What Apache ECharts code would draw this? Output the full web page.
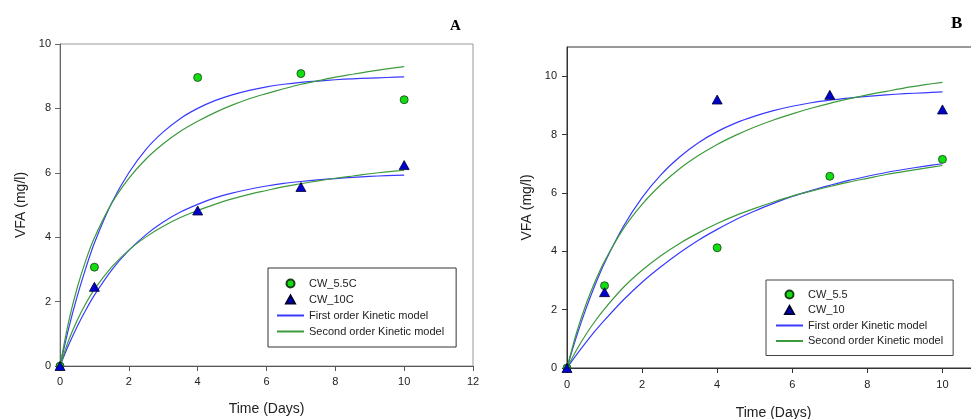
<!DOCTYPE html>
<html>
<head>
<meta charset="utf-8">
<script src="https://cdn.jsdelivr.net/npm/echarts@6/dist/echarts.min.js"></script>
<style>
html,body{margin:0;padding:0;background:#fff;}
#a{position:absolute;left:0;top:0;width:490px;height:419px;}
#b{position:absolute;left:490px;top:0;width:481px;height:419px;}
</style>
</head>
<body>
<div id="a"></div>
<div id="b"></div>
<script>
// Observation days and model time grid
const tObs = [0, 1, 4, 7, 10];
const tFit = [0, 0.25, 0.5, 0.75, 1, 1.5, 2, 2.5, 3, 3.5, 4, 4.5, 5, 5.5, 6, 6.5, 7, 7.5, 8, 8.5, 9, 9.5, 10];
const xTicksB = [0, 2, 4, 6, 8, 10];
const yTicksB = [0, 2, 4, 6, 8, 10];

// Panel A
const aCW55 = [0, 3.07, 8.96, 9.08, 8.27];
const aCW10 = [0, 2.46, 4.83, 5.56, 6.24];
const aFirstHigh = [0, 1.16, 2.16, 3.04, 3.82, 5.06, 6.00, 6.73, 7.27, 7.69, 8.00, 8.24, 8.42, 8.56, 8.67, 8.75, 8.81, 8.85, 8.89, 8.92, 8.94, 8.96, 8.98];
const aSecondHigh = [0, 1.37, 2.43, 3.28, 3.98, 5.05, 5.83, 6.43, 6.90, 7.29, 7.60, 7.87, 8.10, 8.30, 8.46, 8.61, 8.75, 8.86, 8.97, 9.06, 9.15, 9.23, 9.30];
const aFirstLow = [0, 0.65, 1.23, 1.74, 2.20, 2.98, 3.59, 4.08, 4.47, 4.78, 5.02, 5.22, 5.37, 5.49, 5.59, 5.67, 5.73, 5.78, 5.82, 5.86, 5.89, 5.91, 5.93];
const aSecondLow = [0, 0.79, 1.42, 1.94, 2.38, 3.07, 3.60, 4.01, 4.34, 4.61, 4.83, 5.02, 5.19, 5.33, 5.45, 5.57, 5.66, 5.75, 5.83, 5.90, 5.97, 6.03, 6.08];

// Panel B
const bCW55 = [0, 2.82, 4.12, 6.57, 7.15];
const bCW10 = [0, 2.60, 9.20, 9.36, 8.86];
const bFirstHigh = [0, 1.07, 2.01, 2.85, 3.60, 4.85, 5.84, 6.62, 7.23, 7.72, 8.10, 8.40, 8.63, 8.82, 8.97, 9.09, 9.18, 9.25, 9.31, 9.36, 9.40, 9.43, 9.46];
const bSecondHigh = [0, 1.19, 2.16, 2.97, 3.66, 4.77, 5.61, 6.28, 6.83, 7.28, 7.66, 7.98, 8.26, 8.50, 8.71, 8.90, 9.07, 9.22, 9.36, 9.48, 9.60, 9.70, 9.79];
const bFirstLow = [0, 0.45, 0.87, 1.27, 1.64, 2.33, 2.94, 3.47, 3.95, 4.38, 4.75, 5.09, 5.38, 5.64, 5.88, 6.08, 6.26, 6.43, 6.57, 6.70, 6.81, 6.91, 7.00];
const bSecondLow = [0, 0.61, 1.14, 1.61, 2.03, 2.76, 3.35, 3.85, 4.27, 4.63, 4.95, 5.23, 5.47, 5.69, 5.89, 6.06, 6.22, 6.37, 6.50, 6.63, 6.74, 6.84, 6.94];

const FONT = "'Liberation Sans', Arial, sans-serif";
const BLUE_LINE = '#3a3aff';
const GREEN_LINE = '#3c9a3c';
const GREEN_PT = '#11dd11';
const BLUE_PT = '#0000cc';
const TRI_ICON = 'path://M5,0 L10,9 L0,9 Z';
const NO_SYMBOL = { color: 'rgba(0,0,0,0)', borderColor: 'rgba(0,0,0,0)', borderWidth: 0 };

function pairs(xs, ys) { return xs.map((x, i) => [x, ys[i]]); }

function lineSeries(name, ys, color) {
  return {
    name: name, type: 'line', data: pairs(tFit, ys),
    symbol: 'none', smooth: 0.3,
    lineStyle: { color: color, width: 1.2 }, itemStyle: { color: color },
    z: 2, silent: true
  };
}
function scatterSeries(name, ys, symbol, color, border) {
  return {
    name: name, type: 'scatter', data: pairs(tObs, ys),
    symbol: symbol, symbolSize: symbol === 'triangle' ? [10, 9] : 8,
    itemStyle: { color: color, borderColor: border, borderWidth: 0.8, opacity: 1 },
    clip: false, z: 5
  };
}
function legendData(n1, n2) {
  return [
    { name: n1, icon: 'circle' },
    { name: n2, icon: TRI_ICON },
    { name: 'First order Kinetic model', itemStyle: NO_SYMBOL },
    { name: 'Second order Kinetic model', itemStyle: NO_SYMBOL }
  ];
}

function axisCommon(lineColor) {
  return {
    type: 'value',
    axisLine: { show: true, onZero: false, lineStyle: { color: lineColor, width: 1 } },
    axisTick: { show: true, inside: false, length: 5, lineStyle: { color: lineColor } },
    splitLine: { show: false },
    nameLocation: 'middle',
    nameTextStyle: { fontFamily: FONT, fontSize: 14, color: '#222' }
  };
}

// ---------- Chart A ----------
const chartA = echarts.init(document.getElementById('a'), null, { renderer: 'canvas' });
const xA = Object.assign(axisCommon('#555'), {
  min: 0, max: 12, interval: 2, name: 'Time (Days)', nameGap: 36,
  axisLabel: { fontFamily: FONT, fontSize: 11, color: '#222', margin: 10 }
});
const yA = Object.assign(axisCommon('#666'), {
  min: 0, max: 10, interval: 2, name: 'VFA (mg/l)', nameGap: 26,
  axisLabel: { fontFamily: FONT, fontSize: 11, color: '#222', margin: 9 }
});
chartA.setOption({
  animation: false,
  title: { text: 'A', left: 445, top: 14, textStyle: { fontFamily: "'Liberation Serif', 'Times New Roman', serif", fontWeight: 'bold', fontSize: 15, color: '#000' } },
  grid: { left: 60, top: 44, width: 413, height: 322, outerBoundsMode: 'none', containLabel: false, show: true, borderColor: '#999', borderWidth: 1, backgroundColor: 'transparent' },
  xAxis: xA, yAxis: yA,
  legend: {
    left: 268, top: 268, orient: 'vertical',
    data: legendData('CW_5.5C', 'CW_10C'),
    itemWidth: 27, itemHeight: 8, itemGap: 5, symbolKeepAspect: true,
    padding: [10, 12, 10, 8],
    borderColor: '#333', borderWidth: 1, backgroundColor: '#fff',
    textStyle: { fontFamily: FONT, fontSize: 11, color: '#222' },
    selectedMode: false
  },
  series: [
    lineSeries('First order Kinetic model', aFirstHigh, BLUE_LINE),
    lineSeries('Second order Kinetic model', aSecondHigh, GREEN_LINE),
    lineSeries('First order Kinetic model', aFirstLow, BLUE_LINE),
    lineSeries('Second order Kinetic model', aSecondLow, GREEN_LINE),
    scatterSeries('CW_5.5C', aCW55, 'circle', GREEN_PT, '#1b3b1b'),
    scatterSeries('CW_10C', aCW10, 'triangle', BLUE_PT, '#000033')
  ]
});

// ---------- Chart B ----------
const chartB = echarts.init(document.getElementById('b'), null, { renderer: 'canvas' });
const xB = Object.assign(axisCommon('#333'), {
  min: 0, max: 11, name: 'Time (Days)', nameGap: 38,
  axisLabel: { fontFamily: FONT, fontSize: 11, color: '#222', margin: 11, customValues: xTicksB }
});
xB.axisTick.customValues = xTicksB;
const yB = Object.assign(axisCommon('#333'), {
  min: 0, max: 11, name: 'VFA (mg/l)', nameGap: 27,
  axisLabel: { fontFamily: FONT, fontSize: 11, color: '#222', margin: 10, customValues: yTicksB }
});
yB.axisTick.customValues = yTicksB;
chartB.setOption({
  animation: false,
  title: { text: 'B', left: 456, top: 10, textStyle: { fontFamily: "'Liberation Serif', 'Times New Roman', serif", fontWeight: 'bold', fontSize: 17, color: '#000' } },
  grid: { left: 77, top: 47, width: 413, height: 321, outerBoundsMode: 'none', containLabel: false, show: true, borderColor: '#333', borderWidth: 1, backgroundColor: 'transparent' },
  xAxis: xB, yAxis: yB,
  legend: {
    left: 276, top: 280, orient: 'vertical',
    data: legendData('CW_5.5', 'CW_10'),
    itemWidth: 27, itemHeight: 8, itemGap: 4.5, symbolKeepAspect: true,
    padding: [9, 10, 9, 9],
    borderColor: '#444', borderWidth: 1, backgroundColor: '#fff',
    textStyle: { fontFamily: FONT, fontSize: 11, color: '#222' },
    selectedMode: false
  },
  series: [
    lineSeries('First order Kinetic model', bFirstHigh, BLUE_LINE),
    lineSeries('Second order Kinetic model', bSecondHigh, GREEN_LINE),
    lineSeries('First order Kinetic model', bFirstLow, BLUE_LINE),
    lineSeries('Second order Kinetic model', bSecondLow, GREEN_LINE),
    scatterSeries('CW_5.5', bCW55, 'circle', GREEN_PT, '#1b3b1b'),
    scatterSeries('CW_10', bCW10, 'triangle', BLUE_PT, '#000033')
  ]
});
</script>
</body>
</html>
